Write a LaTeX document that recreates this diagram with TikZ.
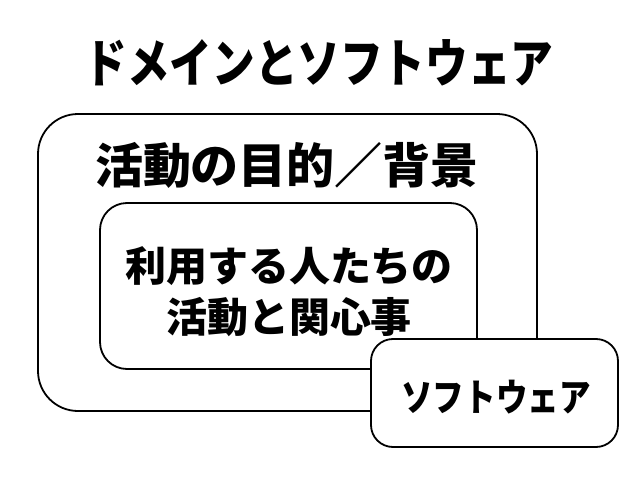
\documentclass[tikz,border=0pt]{standalone}
\usepackage{fontspec}
\usepackage{graphicx}
\newfontfamily\jpfont{Noto Sans CJK JP Black}
\tikzset{
  box/.style={draw=black, line width=1.8pt, fill=white},
  lbl/.style={text=black, inner sep=0pt, anchor=center}
}
\begin{document}
\begin{tikzpicture}[x=1pt,y=-1pt]
\useasboundingbox (0,0) rectangle (638,479);
\node[lbl, font=\jpfont\fontsize{52}{52}\selectfont] (title) at (319,63) {\scalebox{0.82}[1]{ドメインとソフトウェア}};
\draw[box, rounded corners=40pt] (38,114) rectangle (537,411);
\node[lbl, font=\jpfont\fontsize{48}{48}\selectfont] (purpose) at (287,165) {活動の目的／背景};
\draw[box, rounded corners=27pt] (100,203) rectangle (477,369);
\node[lbl, align=center, font=\jpfont\fontsize{41}{51}\selectfont] (activity) at (289,292) {利用する人たちの\\活動と関心事};
\draw[box, rounded corners=22pt] (371,339) rectangle (618,447);
\node[lbl, font=\jpfont\fontsize{38}{38}\selectfont] (sw) at (496,397) {\scalebox{0.83}[1]{ソフトウェア}};
\end{tikzpicture}
\end{document}
